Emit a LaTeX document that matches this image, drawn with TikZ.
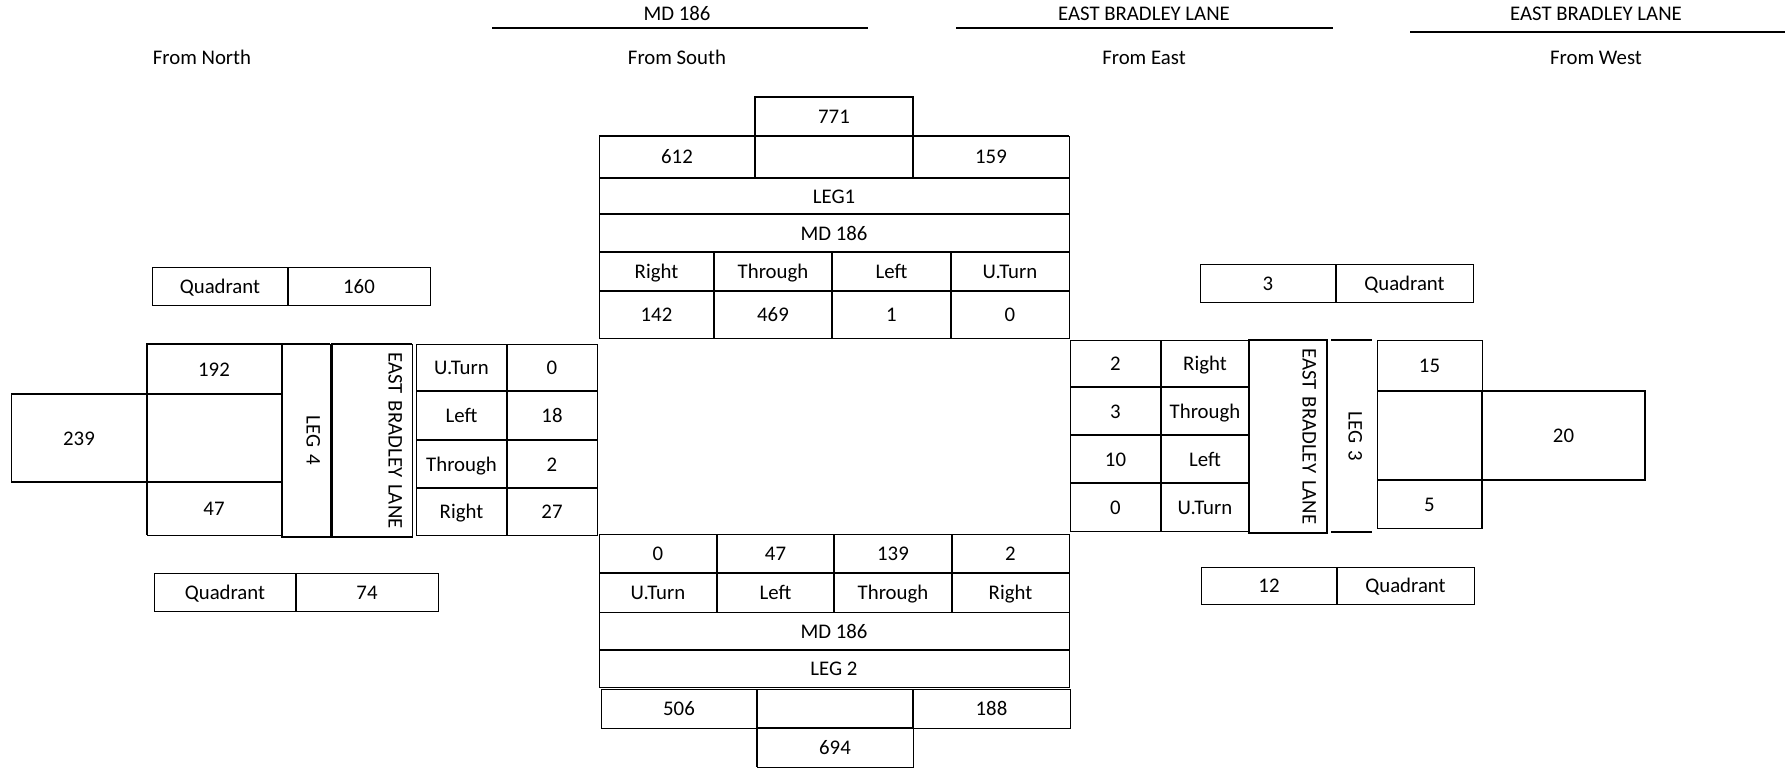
\documentclass[tikz,border=0pt]{standalone}
\usepackage{fontspec}
\setmainfont{Carlito}
\usepackage{graphicx}

\newcommand\tcell[7][cell]{%
  \node[#1,minimum width={#5-#3},minimum height={#6-#4}] (#2) at ({(#3+#5)/2},{(#4+#6)/2}) {#7};}

\begin{document}
\begin{tikzpicture}[
  x=1pt,y=-1pt,
  font=\fontsize{20.8}{24}\selectfont,
  base/.style={draw=black,line width=1pt,inner sep=0pt,outer sep=0pt},
  cell/.style={base,text height=1.45em,text depth=0pt},
  vcell/.style={base,align=right},
  head/.style={inner sep=0pt,text height=.65em,text depth=0pt},
  rule/.style={line width=2.8pt},
  heavy/.style={line width=2.4pt}
]
\useasboundingbox (0,0) rectangle (1785,769);

% Headings
\node[head] (hmd) at (677,17.5) {MD 186};
\draw[rule] (492,28) -- (868,28);
\node[head] (heast) at (1144,17.5) {EAST BRADLEY LANE};
\draw[rule] (956,28) -- (1333,28);
\node[head] (hwest) at (1596,17.5) {EAST BRADLEY LANE};
\draw[rule] (1410,32) -- (1785,32);
\node[head] (fnorth) at (202,61.5) {From North};
\node[head] (fsouth) at (677,61.5) {From South};
\node[head] (feast) at (1144,61.5) {From East};
\node[head] (fwest) at (1596,61.5) {From West};

% Leg 1
\tcell{t771}{755}{97}{913}{136}{771}
\tcell{t612}{599}{136}{755}{177}{612}
\tcell{tmid}{755}{136}{913}{177}{}
\tcell{t159}{913}{136}{1069}{177}{159}
\tcell{leg1}{599}{178}{1069}{214}{LEG1}
\tcell{md1}{599}{214}{1069}{252}{MD 186}
\foreach \n/\xa/\xb/\lab/\val in {r/599/714/Right/142, th/714/832/Through/469,
                                  l/832/951/Left/1, u/951/1069/U.Turn/0} {
  \tcell{\n1}{\xa}{252}{\xb}{291}{\lab}
  \tcell{v\n1}{\xa}{291}{\xb}{338}{\val}
}
\draw[heavy] (t771.south west) -- (t771.north west) -- (t771.north east) -- (t771.south east);
\draw[heavy] (t612.north west) -- (t159.north east);
\draw[heavy] (tmid.north west) -- (tmid.south west);
\draw[heavy] (tmid.north east) -- (tmid.south east);
\draw[heavy] (leg1.south west) -- (leg1.south east);
\draw[heavy] (md1.south west) -- (md1.south east);
\draw[heavy] (r1.south west) -- (u1.south east);
\draw[heavy] (r1.north east) -- (vr1.south east);
\draw[heavy] (th1.north east) -- (vth1.south east);
\draw[heavy] (l1.north east) -- (vl1.south east);

% Leg 2
\foreach \n/\xa/\xb/\lab/\val in {u/599/717/U.Turn/0, l/717/834/Left/47,
                                  th/834/952/Through/139, r/952/1069/Right/2} {
  \tcell{v\n2}{\xa}{534}{\xb}{573}{\val}
  \tcell{\n2}{\xa}{573}{\xb}{612}{\lab}
}
\tcell{md2}{599}{612}{1069}{650}{MD 186}
\tcell{leg2}{599}{650}{1069}{687}{LEG 2}
\tcell{b506}{601}{689}{757}{728}{506}
\tcell{bmid}{757}{689}{913}{728}{}
\tcell{b188}{913}{689}{1070}{728}{188}
\tcell{b694}{757}{728}{913}{767}{694}
\draw[heavy] (vu2.north east) -- (u2.south east);
\draw[heavy] (vl2.north east) -- (l2.south east);
\draw[heavy] (vth2.north east) -- (th2.south east);
\draw[heavy] (vu2.south west) -- (vr2.south east);
\draw[heavy] (md2.south west) -- (md2.south east);
\draw[heavy] (bmid.north west) -- (b694.south west);
\draw[heavy] (bmid.north east) -- (bmid.south east);
\draw[heavy] (bmid.south west) -- (bmid.south east);

% Leg 4
\tcell{q4a}{152}{267}{288}{305}{Quadrant}
\tcell{q4b}{288}{267}{430}{305}{160}
\tcell{w192}{147}{344}{281}{394}{192}
\tcell{w239}{11}{394}{147}{482}{239}
\tcell{wmid}{147}{394}{281}{482}{}
\tcell{w47}{147}{482}{281}{535}{47}
\tcell[vcell,text width=28]{leg4}{282}{344}{330}{537}{\rotatebox{-90}{LEG 4}}
\tcell[vcell,text width=60]{ebl4}{332}{344}{412}{537}{\rotatebox{-90}{EAST BRADLEY LANE}}
\foreach \n/\ya/\yb/\lab/\val in {u/344/391/U.Turn/0, l/391/440/Left/18,
                                  th/440/488/Through/2, r/488/535/Right/27} {
  \tcell{\n4}{416}{\ya}{507}{\yb}{\lab}
  \tcell{v\n4}{507}{\ya}{597}{\yb}{\val}
}
\tcell{q4c}{154}{573}{296}{611}{Quadrant}
\tcell{q4d}{296}{573}{438}{611}{74}
\draw[heavy] (q4a.north east) -- (q4a.south east);
\draw[heavy] (w192.north east) -- (w192.north west) -- (w47.south west);
\draw[heavy] (w239.north west) -- (wmid.north east);
\draw[heavy] (w239.south west) -- (wmid.south east);
\draw[heavy] (leg4.north east) -- (leg4.north west) -- (leg4.south west) -- (leg4.south east);
\draw[heavy] (ebl4.north east) -- (ebl4.north west) -- (ebl4.south west) -- (ebl4.south east);
\draw[heavy] (u4.south west) -- (vu4.south east);
\draw[heavy] (l4.south west) -- (vl4.south east);
\draw[heavy] (th4.south west) -- (vth4.south east);
\draw[heavy] (u4.north east) -- (r4.south east);
\draw[heavy] (q4c.north east) -- (q4c.south east);

% Leg 3
\tcell{q3a}{1200}{264}{1336}{302}{3}
\tcell{q3b}{1336}{264}{1473}{302}{Quadrant}
\foreach \n/\ya/\yb/\lab/\val in {r/340/387/Right/2, th/387/435/Through/3,
                                  l/435/483/Left/10, u/483/531/U.Turn/0} {
  \tcell{v\n3}{1070}{\ya}{1161}{\yb}{\val}
  \tcell{\n3}{1161}{\ya}{1249}{\yb}{\lab}
}
\tcell[vcell,text width=56]{ebl3}{1249}{340}{1327}{533}{\rotatebox{-90}{EAST BRADLEY LANE}}
\tcell[vcell,draw=none,text width=21]{leg3}{1331}{340}{1372}{532}{\rotatebox{-90}{LEG 3}}
\tcell{e15}{1377}{340}{1482}{391}{15}
\tcell{emid}{1377}{391}{1482}{480}{}
\tcell{e20}{1482}{391}{1645}{480}{20}
\tcell{e5}{1377}{480}{1482}{528}{5}
\tcell{q3c}{1201}{567}{1337}{604}{12}
\tcell{q3d}{1337}{567}{1474}{604}{Quadrant}
\draw[heavy] (q3a.north east) -- (q3a.south east);
\draw[heavy] (vr3.south west) -- (r3.south east);
\draw[heavy] (vth3.south west) -- (th3.south east);
\draw[heavy] (vl3.south west) -- (l3.south east);
\draw[heavy] (vr3.north east) -- (vu3.south east);
\draw[heavy] (ebl3.north west) rectangle (ebl3.south east);
\draw[heavy] (leg3.north west) -- (leg3.north east);
\draw[heavy] (leg3.south west) -- (leg3.south east);
\draw[heavy] (emid.north west) -- (e20.north east) -- (e20.south east) -- (emid.south west);
\draw[heavy] (emid.north east) -- (e5.south east);
\draw[heavy] (q3c.north east) -- (q3c.south east);
\end{tikzpicture}
\end{document}
